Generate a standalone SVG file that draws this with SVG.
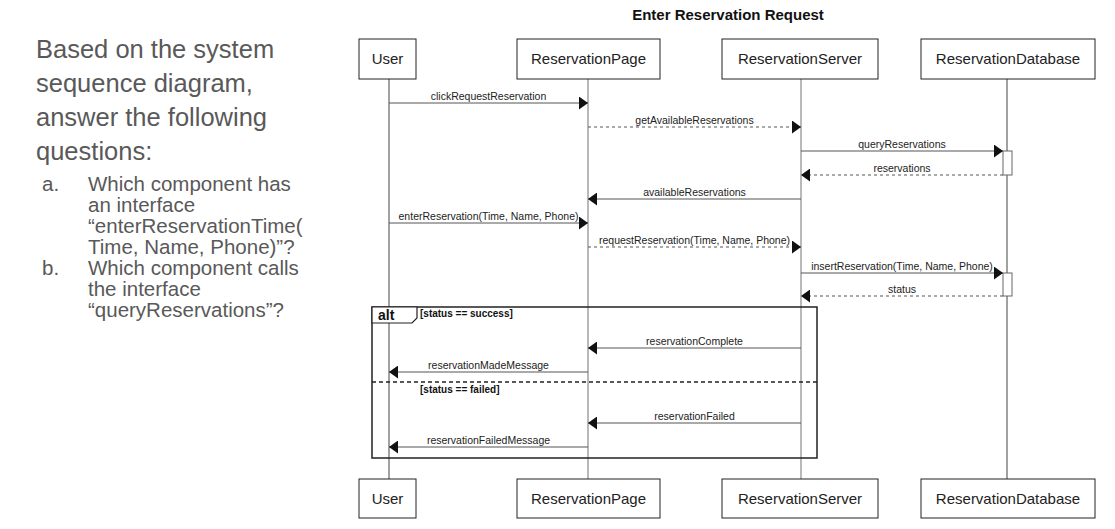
<svg xmlns="http://www.w3.org/2000/svg" width="1115" height="529" viewBox="0 0 1115 529">
<style>
.bg{fill:#ffffff}
.q{font-family:"Liberation Sans",Arial,sans-serif;fill:#595959}
.qh{font-size:25.5px}
.qs{font-size:20.5px}
.title{font-family:"Liberation Sans",Arial,sans-serif;font-size:15px;font-weight:bold;fill:#111;text-anchor:middle}
.box{fill:#fff;stroke:#222;stroke-width:1}
.pname{font-family:"Liberation Sans",Arial,sans-serif;font-size:15px;fill:#222;text-anchor:middle}
.life{stroke:#444;stroke-width:1}
.life2{stroke:#8a8a8a;stroke-width:1.2}
.msg{stroke:#555;stroke-width:1;fill:none}
.dash{stroke-dasharray:3,3}
.lbl{font-family:"Liberation Sans",Arial,sans-serif;font-size:10.5px;fill:#222;text-anchor:middle}
.act{fill:#fff;stroke:#666;stroke-width:1}
.frame{fill:none;stroke:#222;stroke-width:1.5}
.tab{fill:#fff;stroke:#222;stroke-width:1.2}
.alt{font-family:"Liberation Sans",Arial,sans-serif;font-size:14px;font-weight:bold;fill:#111}
.guard{font-family:"Liberation Sans",Arial,sans-serif;font-size:10px;font-weight:bold;fill:#111}
</style>
<defs>
<marker id="ah" markerUnits="userSpaceOnUse" markerWidth="10" markerHeight="13" refX="9" refY="6.5" orient="auto">
<path d="M0,0 L9,6.5 L0,13 z" fill="#111"/>
</marker>
</defs>
<rect class="bg" x="0" y="0" width="1115" height="529"/>

<g id="question">
<text class="q qh" x="36" y="58">Based on the system</text>
<text class="q qh" x="36" y="92">sequence diagram,</text>
<text class="q qh" x="36" y="126">answer the following</text>
<text class="q qh" x="36" y="160">questions:</text>
<text class="q qs" x="42" y="191">a.</text>
<text class="q qs" x="88" y="191">Which component has</text>
<text class="q qs" x="88" y="212">an interface</text>
<text class="q qs" x="88" y="233">“enterReservationTime(</text>
<text class="q qs" x="88" y="254">Time, Name, Phone)”?</text>
<text class="q qs" x="42" y="275">b.</text>
<text class="q qs" x="88" y="275">Which component calls</text>
<text class="q qs" x="88" y="296">the interface</text>
<text class="q qs" x="88" y="317">“queryReservations”?</text>
</g>

<text class="title" x="728" y="20">Enter Reservation Request</text>

<g id="lifelines">
<line class="life" x1="389" y1="79" x2="389" y2="479"/>
<line class="life2" x1="588" y1="79" x2="588" y2="479"/>
<line class="life2" x1="801" y1="79" x2="801" y2="479"/>
<line class="life" x1="1007" y1="79" x2="1007" y2="479"/>
</g>

<g id="user">
<rect class="box" x="359" y="39" width="57" height="40"/>
<text class="pname" x="387.5" y="64">User</text>
<rect class="box" x="359" y="479" width="57" height="39"/>
<text class="pname" x="387.5" y="504">User</text>
</g>
<g id="reservationPage">
<rect class="box" x="517" y="39" width="143" height="40"/>
<text class="pname" x="588.5" y="64">ReservationPage</text>
<rect class="box" x="517" y="479" width="143" height="39"/>
<text class="pname" x="588.5" y="504">ReservationPage</text>
</g>
<g id="reservationServer">
<rect class="box" x="722" y="39" width="156" height="40"/>
<text class="pname" x="800" y="64">ReservationServer</text>
<rect class="box" x="722" y="479" width="156" height="39"/>
<text class="pname" x="800" y="504">ReservationServer</text>
</g>
<g id="reservationDatabase">
<rect class="box" x="921" y="39" width="174" height="40"/>
<text class="pname" x="1008" y="64">ReservationDatabase</text>
<rect class="box" x="921" y="479" width="174" height="39"/>
<text class="pname" x="1008" y="504">ReservationDatabase</text>
<rect class="act" x="1003" y="151" width="9" height="24"/>
<rect class="act" x="1003" y="273" width="9" height="23"/>
</g>

<g id="altFrame">
<rect class="frame" x="372" y="307" width="445" height="151"/>
<path class="tab" d="M372,307 H417 V318 L412,323 H372 Z"/>
<text class="alt" x="378" y="320">alt</text>
<text class="guard" x="420" y="317">[status == success]</text>
<line class="frame" x1="372" y1="382" x2="817" y2="382" stroke-dasharray="4,3"/>
<text class="guard" x="420" y="393">[status == failed]</text>
</g>

<g id="connectors">
<line class="msg" x1="389" y1="103" x2="588" y2="103" marker-end="url(#ah)"/>
<text class="lbl" x="488.5" y="100">clickRequestReservation</text>
<line class="msg dash" x1="588" y1="127" x2="801" y2="127" marker-end="url(#ah)"/>
<text class="lbl" x="694.5" y="124">getAvailableReservations</text>
<line class="msg" x1="801" y1="151" x2="1003" y2="151" marker-end="url(#ah)"/>
<text class="lbl" x="902" y="148">queryReservations</text>
<line class="msg dash" x1="1003" y1="175" x2="801" y2="175" marker-end="url(#ah)"/>
<text class="lbl" x="902" y="172">reservations</text>
<line class="msg" x1="801" y1="199" x2="588" y2="199" marker-end="url(#ah)"/>
<text class="lbl" x="694.5" y="196">availableReservations</text>
<line class="msg" x1="389" y1="223" x2="588" y2="223" marker-end="url(#ah)"/>
<text class="lbl" x="488.5" y="220">enterReservation(Time, Name, Phone)</text>
<line class="msg dash" x1="588" y1="247" x2="801" y2="247" marker-end="url(#ah)"/>
<text class="lbl" x="694.5" y="244">requestReservation(Time, Name, Phone)</text>
<line class="msg" x1="801" y1="273" x2="1003" y2="273" marker-end="url(#ah)"/>
<text class="lbl" x="902" y="270">insertReservation(Time, Name, Phone)</text>
<line class="msg dash" x1="1003" y1="296" x2="801" y2="296" marker-end="url(#ah)"/>
<text class="lbl" x="902" y="293">status</text>
<line class="msg" x1="801" y1="348" x2="588" y2="348" marker-end="url(#ah)"/>
<text class="lbl" x="694.5" y="345">reservationComplete</text>
<line class="msg" x1="588" y1="372" x2="389" y2="372" marker-end="url(#ah)"/>
<text class="lbl" x="488.5" y="369">reservationMadeMessage</text>
<line class="msg" x1="801" y1="423" x2="588" y2="423" marker-end="url(#ah)"/>
<text class="lbl" x="694.5" y="420">reservationFailed</text>
<line class="msg" x1="588" y1="447" x2="389" y2="447" marker-end="url(#ah)"/>
<text class="lbl" x="488.5" y="444">reservationFailedMessage</text>
</g>
</svg>
